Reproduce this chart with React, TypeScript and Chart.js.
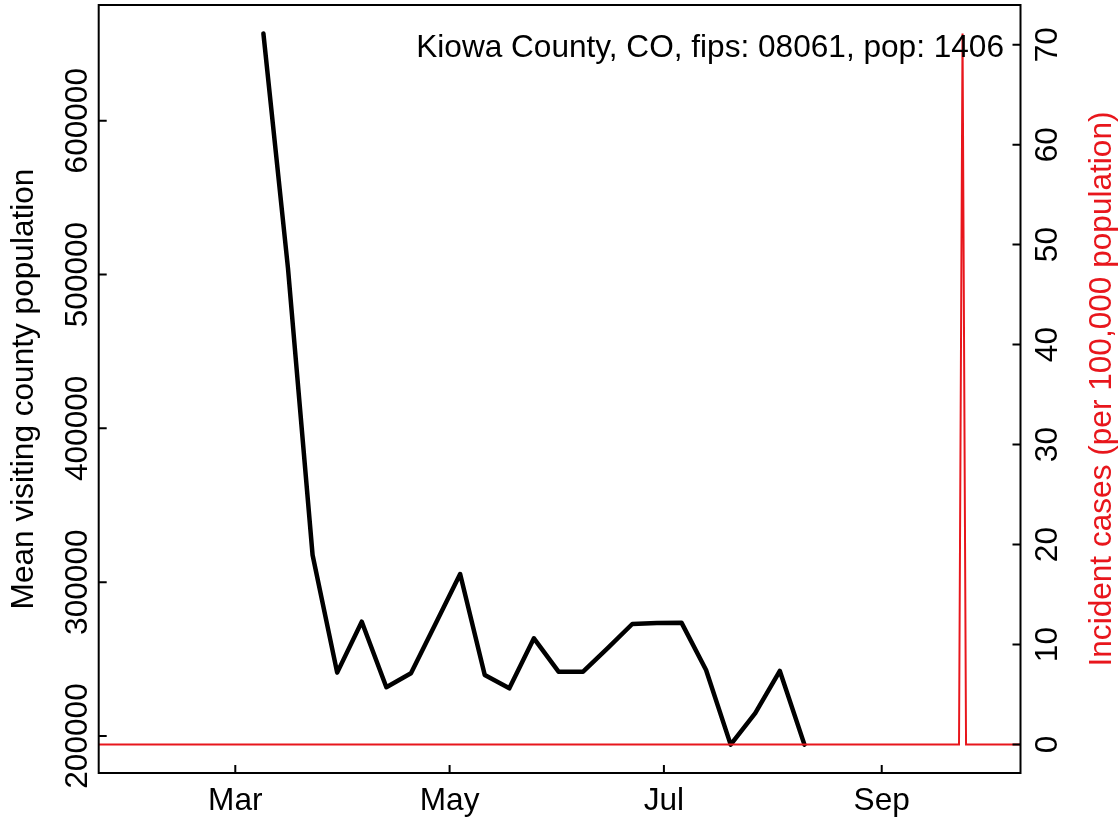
import React, { useEffect, useRef } from "react";
import { Chart, registerables } from "chart.js";

Chart.register(...registerables);

// ---- data (days counted from 2020-01-01 = 0) ----
const visitDays = [68, 75, 82, 89, 96, 103, 110, 117, 124, 131, 138, 145, 152, 159, 166, 173, 180, 187, 194, 201, 208, 215, 222];
const visitPop = [656700, 504000, 317700, 241200, 274300, 231700, 240800, 273000, 305300, 239700, 231000, 263500, 241800, 241800, 257200, 272800, 273400, 273700, 242900, 194400, 214800, 242300, 194400];

const caseDays = [21, 266, 267, 268, 284];
const caseRates = [0, 0, 71.12, 0, 0];

const monthTickDays = [60, 121, 182, 244];
const monthTickLabels = ["Mar", "May", "Jul", "Sep"];
const leftTicks = [200000, 300000, 400000, 500000, 600000];
const rightTicks = [0, 10, 20, 30, 40, 50, 60, 70];

const chartTitle = "Kiowa County, CO, fips: 08061, pop: 1406";
const leftAxisTitle = "Mean visiting county population";
const rightAxisTitle = "Incident cases (per 100,000 population)";

const RED = "#e8161c";
const FONT = '31.6px "Liberation Sans", Arial, Helvetica, sans-serif';

const decorPlugin = {
  id: "decor",
  afterDatasetsDraw(chart: any) {
    const { ctx, chartArea: a, scales } = chart;
    const x = scales.x, y = scales.y, y2 = scales.y2;
    ctx.save();
    ctx.strokeStyle = "#000";
    ctx.lineWidth = 2;
    ctx.strokeRect(a.left, a.top, a.right - a.left, a.bottom - a.top);
    const tl = 8;
    ctx.beginPath();
    monthTickDays.forEach((d) => {
      const px = x.getPixelForValue(d);
      ctx.moveTo(px, a.bottom);
      ctx.lineTo(px, a.bottom - tl);
    });
    leftTicks.forEach((v) => {
      const py = y.getPixelForValue(v);
      ctx.moveTo(a.left, py);
      ctx.lineTo(a.left + tl, py);
    });
    rightTicks.forEach((v) => {
      const py = y2.getPixelForValue(v);
      ctx.moveTo(a.right, py);
      ctx.lineTo(a.right - tl, py);
    });
    ctx.stroke();

    ctx.font = FONT;
    ctx.fillStyle = "#000";
    ctx.textBaseline = "alphabetic";
    ctx.textAlign = "center";
    monthTickDays.forEach((d, i) => {
      ctx.fillText(monthTickLabels[i], x.getPixelForValue(d), 810);
    });
    leftTicks.forEach((v) => {
      ctx.save();
      ctx.translate(a.left - 12, y.getPixelForValue(v));
      ctx.rotate(-Math.PI / 2);
      ctx.fillText(String(v), 0, 0);
      ctx.restore();
    });
    rightTicks.forEach((v) => {
      ctx.save();
      ctx.translate(a.right + 36, y2.getPixelForValue(v));
      ctx.rotate(-Math.PI / 2);
      ctx.fillText(String(v), 0, 0);
      ctx.restore();
    });
    const cy = (a.top + a.bottom) / 2;
    ctx.save();
    ctx.translate(33, cy);
    ctx.rotate(-Math.PI / 2);
    ctx.fillText(leftAxisTitle, 0, 0);
    ctx.restore();
    ctx.save();
    ctx.fillStyle = RED;
    ctx.translate(a.right + 90, cy);
    ctx.rotate(-Math.PI / 2);
    ctx.fillText(rightAxisTitle, 0, 0);
    ctx.restore();

    ctx.textAlign = "right";
    ctx.fillText(chartTitle, 1004, 57);
    ctx.restore();
  },
};

export default function App() {
  const ref = useRef<HTMLCanvasElement>(null);
  useEffect(() => {
    if (!ref.current) return;
    const chart = new Chart(ref.current, {
      type: "line",
      data: {
        datasets: [
          {
            label: "cases",
            data: caseDays.map((d, i) => ({ x: d, y: caseRates[i] })),
            yAxisID: "y2",
            borderColor: RED,
            borderWidth: 2,
            pointRadius: 0,
            tension: 0,
            fill: false,
          },
          {
            label: "visitors",
            data: visitDays.map((d, i) => ({ x: d, y: visitPop[i] })),
            yAxisID: "y",
            borderColor: "#000",
            borderWidth: 4.5,
            borderJoinStyle: "round",
            borderCapStyle: "round",
            pointRadius: 0,
            tension: 0,
            fill: false,
          },
        ],
      },
      options: {
        responsive: false,
        animation: false,
        layout: { padding: { left: 98.7, right: 98.5, top: 5, bottom: 49 } },
        plugins: { legend: { display: false }, tooltip: { enabled: false }, title: { display: false } },
        scales: {
          x: { type: "linear", display: false, min: 21.12, max: 283.5 },
          y: { type: "linear", display: false, min: 175943, max: 675227 },
          y2: { type: "linear", display: false, min: -2.845, max: 73.965 },
        },
      },
      plugins: [decorPlugin],
    });
    return () => chart.destroy();
  }, []);
  return (
    <div style={{ position: "fixed", left: 0, top: 0, width: 1119, height: 822, background: "#fff" }}>
      <canvas ref={ref} width={1119} height={822} style={{ display: "block" }} />
    </div>
  );
}
